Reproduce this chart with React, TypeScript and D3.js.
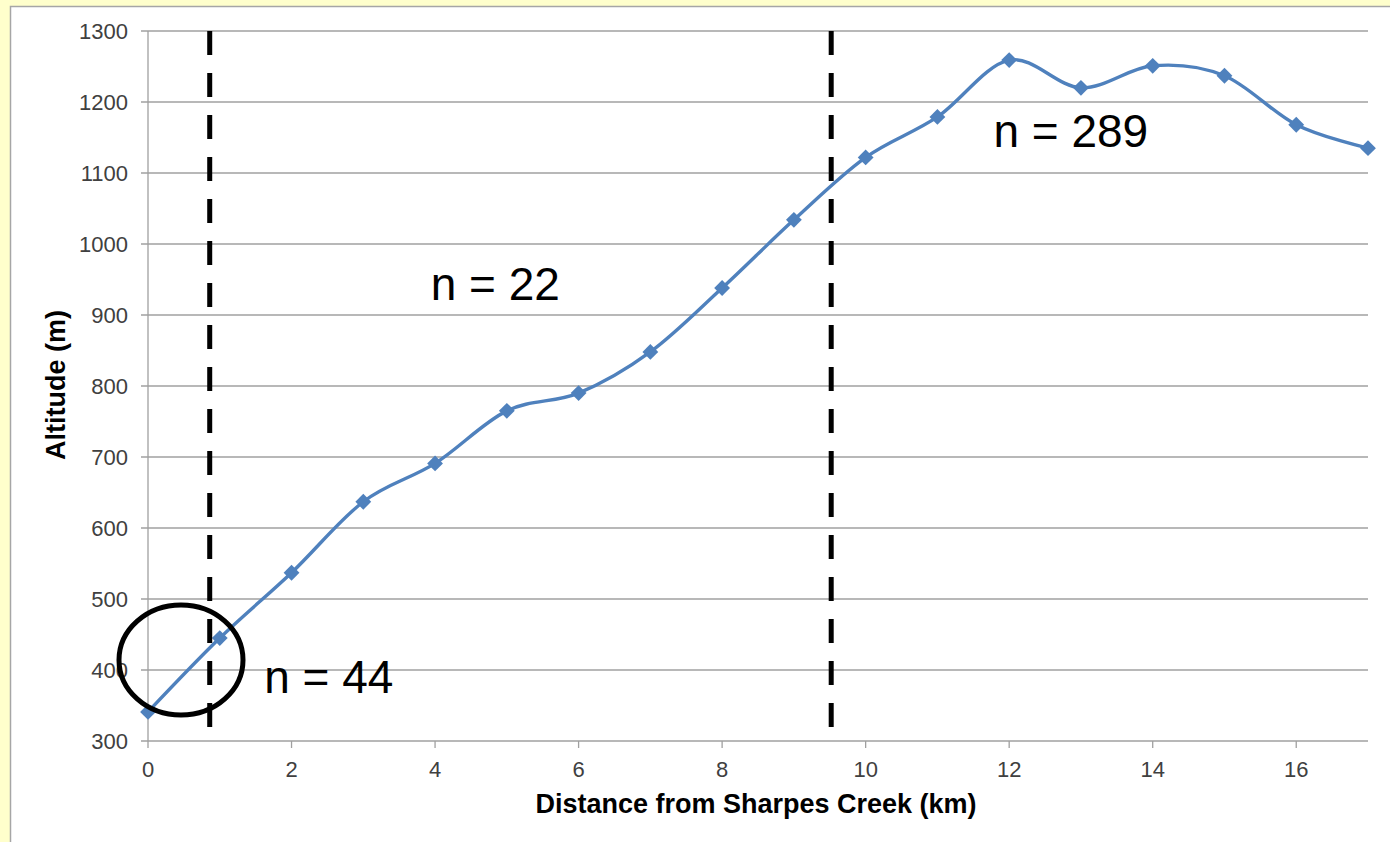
import * as d3 from "d3";

// distance (km) and altitude (m)
const distance = [0, 1, 2, 3, 4, 5, 6, 7, 8, 9, 10, 11, 12, 13, 14, 15, 16, 17];
const altitude = [341, 445, 537, 637, 691, 765, 790, 848, 938, 1034, 1122, 1179, 1259, 1220, 1251, 1237, 1168, 1135];

const xTicks = [0, 2, 4, 6, 8, 10, 12, 14, 16];
const yTicks = [300, 400, 500, 600, 700, 800, 900, 1000, 1100, 1200, 1300];

// dashed boundaries between the zones (km)
const boundaries = [0.86, 9.52];

const labels = [
  { text: "n = 44", x: 1.62, y: 368 },
  { text: "n = 22", x: 3.94, y: 921 },
  { text: "n = 289", x: 11.78, y: 1137 },
];

const W = 1390;
const H = 842;
const FONT = "Arial, 'Liberation Sans', sans-serif";
const BLUE = "#4f81bd";

export default function App() {
  const x = d3.scaleLinear().domain([0, 17]).range([148, 1368]);
  const y = d3.scaleLinear().domain([300, 1300]).range([741, 31]);

  const pts = distance.map((d, i) => [d, altitude[i]] as [number, number]);
  const line = d3
    .line<[number, number]>()
    .x((d) => x(d[0]))
    .y((d) => y(d[1]))
    .curve(d3.curveCardinal.tension(0));

  const diamond = d3.symbol(d3.symbolSquare, 125)();

  return (
    <div style={{ position: "fixed", left: 0, top: 0 }}>
      <svg width={W} height={H} style={{ display: "block" }}>
        <rect x={0} y={0} width={W} height={H} fill="#ffffcc" />
        <rect x={10.5} y={6.5} width={W} height={H} fill="#ffffff" stroke="#a6a6a6" strokeWidth={1.5} />

        {/* grid */}
        {yTicks.map((t) => (
          <g key={t}>
            <line x1={141} x2={x(17)} y1={y(t)} y2={y(t)} stroke="#a0a0a0" strokeWidth={1.3} />
            <text
              x={128}
              y={y(t)}
              dy="0.35em"
              textAnchor="end"
              fontFamily={FONT}
              fontSize={22}
              fill="#404040"
            >
              {t}
            </text>
          </g>
        ))}
        <line x1={x(0)} x2={x(0)} y1={y(1300)} y2={y(300)} stroke="#a0a0a0" strokeWidth={1.3} />
        {xTicks.map((t) => (
          <g key={t}>
            <line x1={x(t)} x2={x(t)} y1={y(300)} y2={y(300) + 7} stroke="#a0a0a0" strokeWidth={1.3} />
            <text
              x={x(t)}
              y={777}
              textAnchor="middle"
              fontFamily={FONT}
              fontSize={22}
              fill="#404040"
            >
              {t}
            </text>
          </g>
        ))}

        {/* axis titles */}
        <text
          x={756}
          y={813}
          textAnchor="middle"
          fontFamily={FONT}
          fontSize={27}
          fontWeight="bold"
          fill="#000"
        >
          Distance from Sharpes Creek (km)
        </text>
        <text
          transform={`translate(65,385) rotate(-90)`}
          textAnchor="middle"
          fontFamily={FONT}
          fontSize={27}
          fontWeight="bold"
          fill="#000"
        >
          Altitude (m)
        </text>

        {/* series */}
        <path d={line(pts) ?? ""} fill="none" stroke={BLUE} strokeWidth={3.4} strokeLinejoin="round" />
        {pts.map((p, i) => (
          <path
            key={i}
            d={diamond ?? ""}
            transform={`translate(${x(p[0])},${y(p[1])}) rotate(45)`}
            fill={BLUE}
          />
        ))}

        {/* zone boundaries */}
        {boundaries.map((b) => (
          <line
            key={b}
            x1={x(b)}
            x2={x(b)}
            y1={y(1300)}
            y2={727}
            stroke="#000"
            strokeWidth={5}
            strokeDasharray="24 18"
          />
        ))}

        {/* circled start */}
        <ellipse cx={181} cy={660} rx={62} ry={55} fill="none" stroke="#000" strokeWidth={5} />

        {labels.map((l) => (
          <text key={l.text} x={x(l.x)} y={y(l.y)} fontFamily={FONT} fontSize={46} fill="#000">
            {l.text}
          </text>
        ))}
      </svg>
    </div>
  );
}
